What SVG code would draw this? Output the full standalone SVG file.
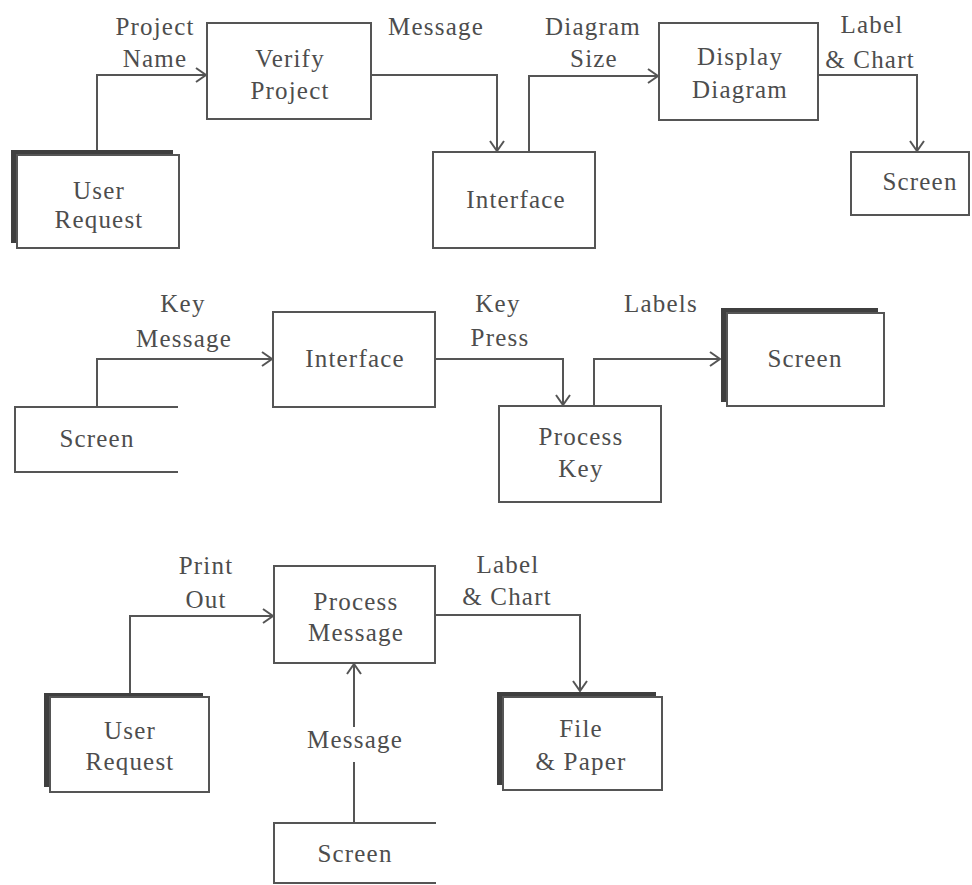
<svg xmlns="http://www.w3.org/2000/svg" width="972" height="885" viewBox="0 0 972 885">
<style>
  text { font-family: "Liberation Serif", "Times New Roman", serif; font-size: 25px; fill: #4d4d4d; text-anchor: middle; letter-spacing: 1.2px; }
  .box { fill: #ffffff; stroke: #555555; stroke-width: 2; }
  .shadow { fill: #3f3f3f; stroke: none; }
  .open { fill: none; stroke: #555555; stroke-width: 2; }
  .conn { fill: none; stroke: #555555; stroke-width: 2; }
</style>
<defs>
  <marker id="arrow" viewBox="-12 -8 14 16" refX="0" refY="0" markerWidth="14" markerHeight="16" markerUnits="userSpaceOnUse" orient="auto">
    <path d="M-10,-7 L0,0 L-10,7" fill="none" stroke="#555555" stroke-width="2"/>
  </marker>
</defs>
<rect width="972" height="885" fill="#ffffff"/>

<g id="connectors">
  <path class="conn" d="M97,150 V75 H206" marker-end="url(#arrow)"/>
  <path class="conn" d="M371,75 H497 V151" marker-end="url(#arrow)"/>
  <path class="conn" d="M529,152 V76 H658" marker-end="url(#arrow)"/>
  <path class="conn" d="M818,75 H917 V151" marker-end="url(#arrow)"/>
  <path class="conn" d="M97,407 V359 H272" marker-end="url(#arrow)"/>
  <path class="conn" d="M435,359 H563 V405" marker-end="url(#arrow)"/>
  <path class="conn" d="M594,406 V359 H720" marker-end="url(#arrow)"/>
  <path class="conn" d="M130,693 V616 H273" marker-end="url(#arrow)"/>
  <path class="conn" d="M435,615 H580 V691" marker-end="url(#arrow)"/>
  <path class="conn" d="M354,823 V762"/>
  <path class="conn" d="M354,727 V664" marker-end="url(#arrow)"/>
  <text x="155" y="35">Project</text>
  <text x="155" y="67">Name</text>
  <text x="436" y="35">Message</text>
  <text x="593" y="35">Diagram</text>
  <text x="594" y="67">Size</text>
  <text x="872" y="33">Label</text>
  <text x="870" y="68">&amp; Chart</text>
  <text x="183" y="312">Key</text>
  <text x="184" y="347">Message</text>
  <text x="498" y="312">Key</text>
  <text x="500" y="346">Press</text>
  <text x="661" y="312">Labels</text>
  <text x="206" y="574">Print</text>
  <text x="206" y="608">Out</text>
  <text x="508" y="573">Label</text>
  <text x="507" y="605">&amp; Chart</text>
  <text x="355" y="748">Message</text>
</g>

<g id="user_request_1">
  <rect class="shadow" x="11" y="150" width="162" height="93"/>
  <rect class="box" x="17" y="155" width="162" height="93"/>
  <text x="99" y="199">User</text>
  <text x="99" y="228">Request</text>
</g>

<g id="verify_project">
  <rect class="box" x="207" y="23" width="164" height="96"/>
  <text x="290" y="67">Verify</text>
  <text x="290" y="99">Project</text>
</g>

<g id="interface_1">
  <rect class="box" x="433" y="152" width="162" height="96"/>
  <text x="516" y="208">Interface</text>
</g>

<g id="display_diagram">
  <rect class="box" x="659" y="23" width="159" height="97"/>
  <text x="740" y="65">Display</text>
  <text x="740" y="98">Diagram</text>
</g>

<g id="screen_1">
  <rect class="box" x="851" y="152" width="118" height="63"/>
  <text x="920" y="190">Screen</text>
</g>

<g id="screen_2">
  <path class="open" d="M178,407 H15 V472 H178"/>
  <text x="97" y="447">Screen</text>
</g>

<g id="interface_2">
  <rect class="box" x="273" y="312" width="162" height="95"/>
  <text x="355" y="367">Interface</text>
</g>

<g id="process_key">
  <rect class="box" x="499" y="406" width="162" height="96"/>
  <text x="581" y="445">Process</text>
  <text x="581" y="477">Key</text>
</g>

<g id="screen_3">
  <rect class="shadow" x="721" y="308" width="157" height="94"/>
  <rect class="box" x="727" y="313" width="157" height="93"/>
  <text x="805" y="367">Screen</text>
</g>

<g id="user_request_2">
  <rect class="shadow" x="44" y="693" width="159" height="94"/>
  <rect class="box" x="50" y="697" width="159" height="95"/>
  <text x="130" y="739">User</text>
  <text x="130" y="770">Request</text>
</g>

<g id="process_message">
  <rect class="box" x="274" y="566" width="161" height="97"/>
  <text x="356" y="610">Process</text>
  <text x="356" y="641">Message</text>
</g>

<g id="file_paper">
  <rect class="shadow" x="497" y="692" width="159" height="93"/>
  <rect class="box" x="503" y="697" width="159" height="93"/>
  <text x="581" y="737">File</text>
  <text x="581" y="770">&amp; Paper</text>
</g>

<g id="screen_4">
  <path class="open" d="M436,823 H274 V883 H436"/>
  <text x="355" y="862">Screen</text>
</g>
</svg>
